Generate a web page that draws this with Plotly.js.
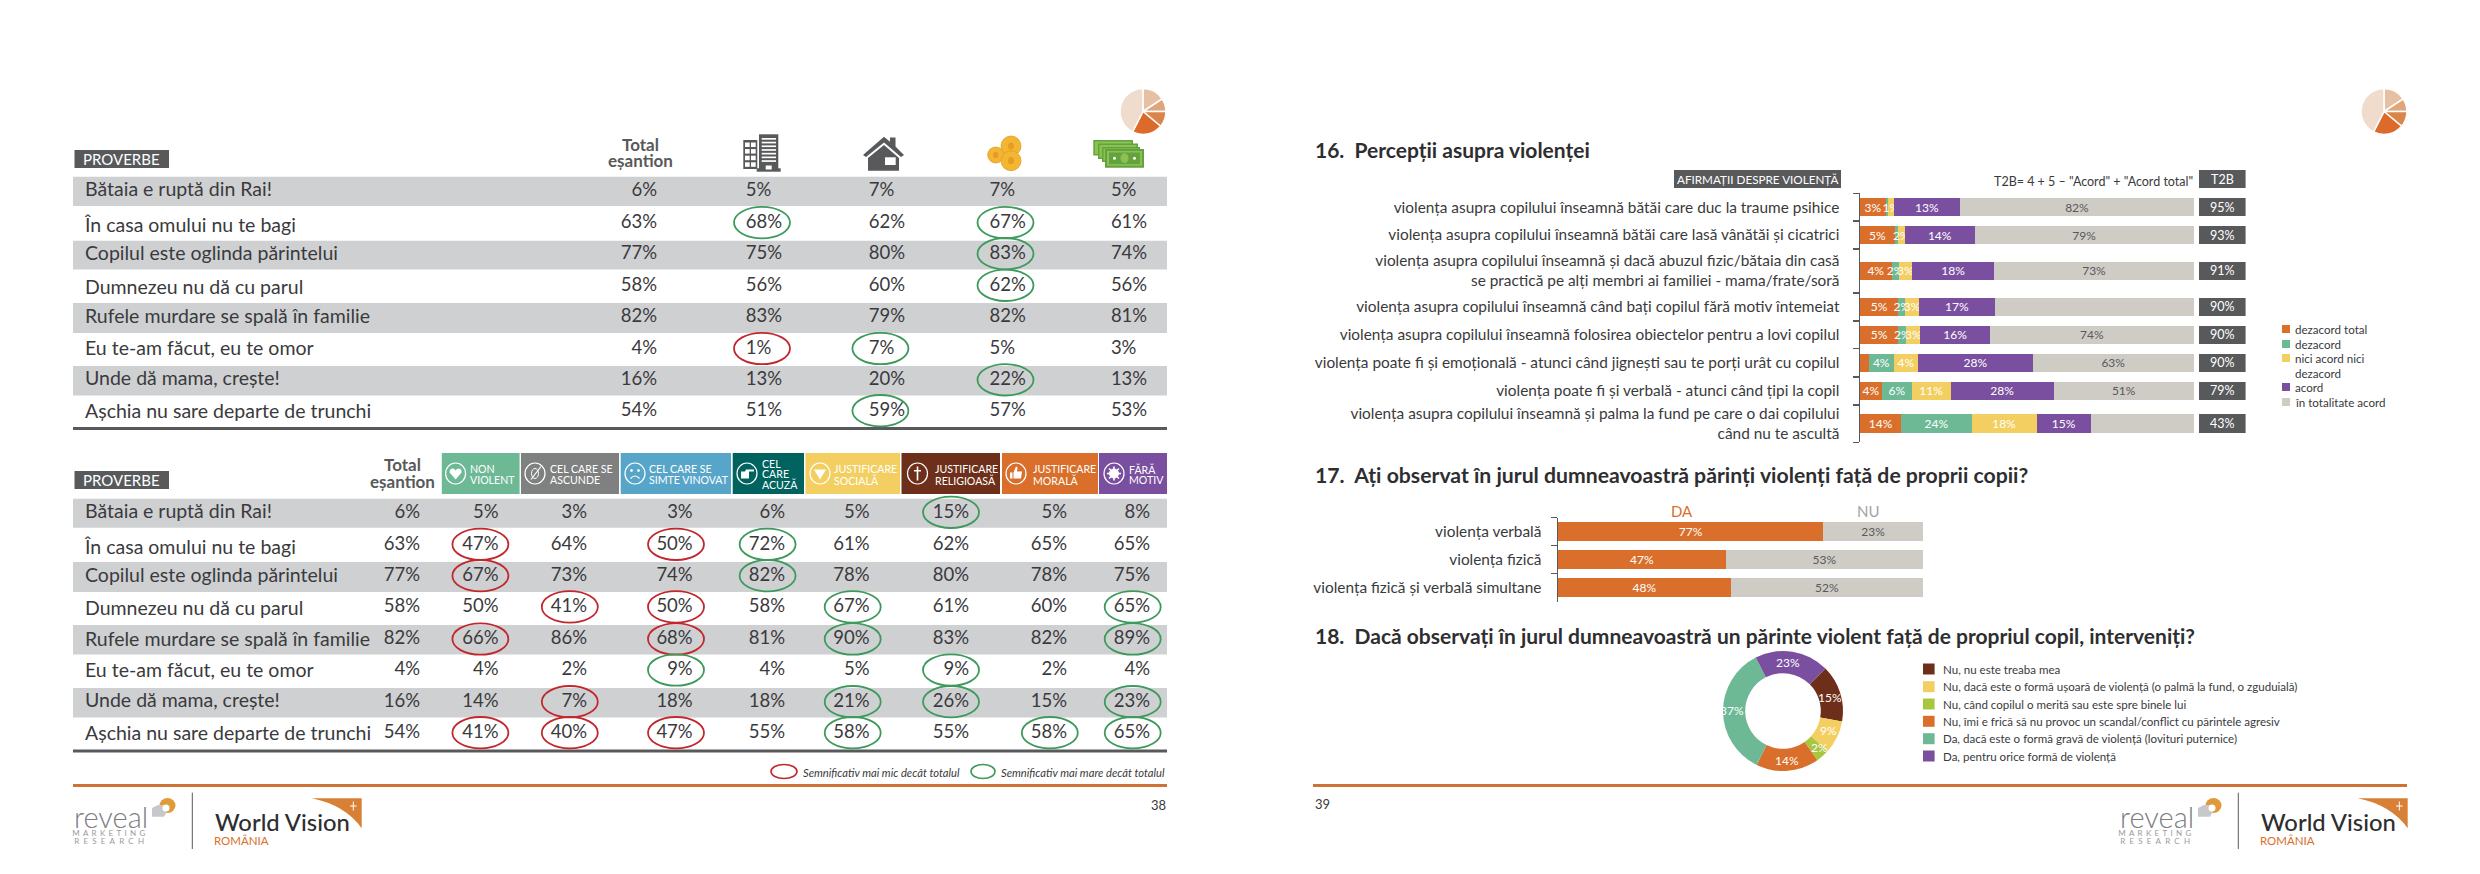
<!DOCTYPE html>
<html><head><meta charset="utf-8">
<script src="https://cdn.plot.ly/plotly-3.0.1.min.js"></script>
<style>html,body{margin:0;padding:0;background:#fff}#c{width:2480px;height:874px}</style>
</head><body><div id="c"></div>
<script>
// ---------- DATA ----------
const proverbs = ["Bătaia e ruptă din Rai!","În casa omului nu te bagi","Copilul este oglinda părintelui","Dumnezeu nu dă cu parul","Rufele murdare se spală în familie","Eu te-am făcut, eu te omor","Unde dă mama, crește!","Așchia nu sare departe de trunchi"];
const t1Total   = [6,63,77,58,82,4,16,54];
const t1Urban   = [5,68,75,56,83,1,13,51];
const t1Rural   = [7,62,80,60,79,7,20,59];
const t1Low     = [7,67,83,62,82,5,22,57];
const t1High    = [5,61,74,56,81,3,13,53];
const t1Sig = [["","","",""],["g","","g",""],["","","g",""],["","","g",""],["","","",""],["r","g","",""],["","","g",""],["","g","",""]];
const t2Total      = [6,63,77,58,82,4,16,54];
const t2NonViolent = [5,47,67,50,66,4,14,41];
const t2Ascunde    = [3,64,73,41,86,2,7,40];
const t2Vinovat    = [3,50,74,50,68,9,18,47];
const t2Acuza      = [6,72,82,58,81,4,18,55];
const t2Sociala    = [5,61,78,67,90,5,21,58];
const t2Religioasa = [15,62,80,61,83,9,26,55];
const t2Morala     = [5,65,78,60,82,2,15,58];
const t2Fara       = [8,65,75,65,89,4,23,65];
const t2Sig = [
 ["","","","","","g","",""],
 ["r","","r","g","","","",""],
 ["r","","","g","","","",""],
 ["","r","r","","g","","","g"],
 ["r","","r","","g","","","g"],
 ["","","g","","","g","",""],
 ["","r","","","g","g","","g"],
 ["r","r","r","","g","","g","g"]];
const segmentHeaders = [["NON","VIOLENT"],["CEL CARE SE","ASCUNDE"],["CEL CARE SE","SIMTE VINOVAT"],["CEL","CARE","ACUZĂ"],["JUSTIFICARE","SOCIALĂ"],["JUSTIFICARE","RELIGIOASĂ"],["JUSTIFICARE","MORALĂ"],["FĂRĂ","MOTIV"]];

const q16Statements = ["violența asupra copilului înseamnă bătăi care duc la traume psihice","violența asupra copilului înseamnă bătăi care lasă vânătăi și cicatrici","violența asupra copilului înseamnă și dacă abuzul fizic/bătaia din casă<br>se practică pe alți membri ai familiei - mama/frate/soră","violența asupra copilului înseamnă când bați copilul fără motiv întemeiat","violența asupra copilului înseamnă folosirea obiectelor pentru a lovi copilul","violența poate fi și emoțională - atunci când jignești sau te porți urât cu copilul","violența poate fi și verbală - atunci când țipi la copil","violența asupra copilului înseamnă și palma la fund pe care o dai copilului<br>când nu te ascultă"];
const q16Series = ["dezacord total","dezacord","nici acord nici|dezacord","acord","în totalitate acord"];
// drawn bar lengths (the printed labels differ from the drawn lengths in the source)
const q16Dezacord1 = [7.8,10.5,9.5,11.5,11.5,2.7,6.6,12.4];
const q16Dezacord2 = [0.6,1.0,2.1,2.1,2.4,7.4,9.0,21.0];
const q16Neutru    = [1.7,1.9,4.0,4.1,4.2,7.3,11.5,19.5];
const q16Acord     = [19.9,21.0,24.6,22.7,20.8,34.4,31.0,16.2];
const q16AcordTot  = [70.0,65.5,59.8,59.7,61.1,48.1,41.8,31.0];
const q16Labels1 = ["3%","5%","4%","5%","5%","","4%","14%"];
const q16Labels2 = ["","","2%","2%","2%","4%","6%","24%"];
const q16Labels3 = ["1%","2%","3%","3%","3%","4%","11%","18%"];
const q16Labels4 = ["13%","14%","18%","17%","16%","28%","28%","15%"];
const q16Labels5 = ["82%","79%","73%","73%","74%","63%","51%","28%"];
const q16T2B = ["95%","93%","91%","90%","90%","90%","79%","43%"];

const q17Types = ["violența verbală","violența fizică","violența fizică și verbală simultane"];
const q17Da = [72.7,46,47.4];
const q17Nu = [27.3,54,52.6];
const q17DaLabels = ["77%","47%","48%"];
const q17NuLabels = ["23%","53%","52%"];

const q18Answers = ["Nu, nu este treaba mea","Nu, dacă este o formă ușoară de violență (o palmă la fund, o zguduială)","Nu, când copilul o merită sau este spre binele lui","Nu, îmi e frică să nu provoc un scandal/conflict cu părintele agresiv","Da, dacă este o formă gravă de violență (lovituri puternice)","Da, pentru orice formă de violență"];
const q18Drawn = [15.3,8.9,3.6,16.9,35.3,20.0];
const q18Labels = ["15%","9%","2%","14%","37%","23%"];
const decorPie = [57,33,40,77,153];

// ---------- STYLE / LAYOUT CONSTANTS ----------
const F='Lato', DARK='#3a3a3c', TAG='#58595b', BAND='#cfd0d2', ORANGE='#d96f2b', GREEN='#6db996', YEL='#f3cf62', PUR='#7b4fa0', STONE='#cfccc6', BROWN='#6e2f1a', LIME='#a9c63f';
const RED_E='#c1272d', GRN_E='#3d9a5c';
const W=2480,H=874;
const px=v=>v/W, py=v=>1-v/H;
const shapes=[], annotations=[], traces=[];
function rect(x0,y0,x1,y1,fill){shapes.push({type:'rect',xref:'x',yref:'y',x0,y0,x1,y1,fillcolor:fill,line:{width:0},layer:'below'});}
function line(x0,y0,x1,y1,color,width){shapes.push({type:'line',xref:'x',yref:'y',x0,y0,x1,y1,line:{color,width},layer:'below'});}
function ell(cx,cy,rx,ry,color,width,fill){shapes.push({type:'circle',xref:'x',yref:'y',x0:cx-rx,x1:cx+rx,y0:cy-ry,y1:cy+ry,line:{color,width},fillcolor:fill||'rgba(0,0,0,0)',layer:'above'});}
function path(d,fill,lineColor,lw){shapes.push({type:'path',xref:'x',yref:'y',path:d,fillcolor:fill||'rgba(0,0,0,0)',line:{width:lw||0,color:lineColor||'rgba(0,0,0,0)'},layer:'above'});}
const box=(x0,y0,x1,y1,fill)=>path(`M${x0},${y0} L${x1},${y0} L${x1},${y1} L${x0},${y1} Z`,fill);
function txt(x,y,s,size,color,anchor,opts){annotations.push(Object.assign({xref:'x',yref:'y',x,y,text:s,showarrow:false,xanchor:anchor||'left',yanchor:'middle',font:{family:F,size,color},borderpad:0},opts||{}));}
function tableText(xs,ys,texts,pos,size){traces.push({type:'scatter',mode:'text',xaxis:'x',yaxis:'y',x:xs,y:ys,text:texts,textposition:pos,textfont:{family:F,size:size,color:DARK},hoverinfo:'skip',showlegend:false,cliponaxis:false});}
const boldSmall=(x,y,s)=>txt(x,y,s,17,TAG,'center',{font:{family:F,size:17,color:TAG,weight:700}});

// ---------- TABLE 1 ----------
const LX=73, RX=1167, LABEL_X=85, TXT=18.5, LABEL_TXT=19.5;
const labelDY=[0,4,1,3,1,1,0,2];
const t1Y=[191.5,223.3,254.4,286,317.4,349.2,380.5,411.4];
[[176.7,206],[240.7,269.5],[303,333],[366,395.5]].forEach(b=>rect(LX,b[0],RX,b[1],BAND));
rect(LX,427,RX,430,TAG);
rect(74.5,150,169,168,TAG); txt(121.7,159,'PROVERBE',15,'#fff','center');
boldSmall(640,144,'Total'); boldSmall(640,160.5,'eșantion');
tableText(t1Y.map(()=>LABEL_X),t1Y.map((y,i)=>y+labelDY[i]),proverbs,'middle right',LABEL_TXT);
const pct=a=>a.map(v=>v+'%');
tableText(t1Y.map(()=>657),t1Y,pct(t1Total),'middle left',TXT);
[[745.8,t1Urban],[868.7,t1Rural],[989.5,t1Low],[1110.9,t1High]].forEach(c=>tableText(t1Y.map(()=>c[0]),t1Y,pct(c[1]),'middle right',TXT));
const t1CX=[762,880.4,1005.5,1127];
t1Sig.forEach((r,i)=>r.forEach((s,j)=>{if(s)ell(t1CX[j],t1Y[i]-0.7,28,15.7,s==='g'?GRN_E:RED_E,1.8);}));

// ---------- TABLE 2 ----------
const t2Y=[513,545,576.4,607.6,639.7,670.7,702.4,733.4];
[[498.7,527.7],[562,592],[625,654.5],[688,717.5]].forEach(b=>rect(LX,b[0],RX,b[1],BAND));
rect(LX,749.5,RX,752.5,TAG);
rect(74.5,471,169,489,TAG); txt(121.7,480,'PROVERBE',15,'#fff','center');
boldSmall(402.5,464,'Total'); boldSmall(402.5,481,'eșantion');
tableText(t2Y.map(()=>LABEL_X),t2Y.map((y,i)=>y+labelDY[i]),proverbs,'middle right',LABEL_TXT);
[[420,t2Total],[498.5,t2NonViolent],[587,t2Ascunde],[692.7,t2Vinovat],[785,t2Acuza],[869.5,t2Sociala],[969,t2Religioasa],[1067,t2Morala],[1150,t2Fara]]
  .forEach(c=>tableText(t2Y.map(()=>c[0]),t2Y,pct(c[1]),'middle left',TXT));
const t2CX=[480.4,569.8,676,767.6,852.7,951,1049.8,1132.7];
t2Sig.forEach((r,i)=>r.forEach((s,j)=>{if(s)ell(t2CX[j],t2Y[i]-0.7,28,15.7,s==='g'?GRN_E:RED_E,1.8);}));
// segment header boxes
const boxes=[[441.8,519.6,GREEN,455.6,468.7],[521,619,'#7f8080',535,548.7],[620.7,731,'#57a6c9',635,647.6],[732.7,804,'#00635f',747,761],[805.5,900,YEL,820,833],[901.5,1000,BROWN,917.5,933.5],[1002,1098,ORANGE,1016,1031.6],[1099,1167,PUR,1114,1128]];
boxes.forEach((b,i)=>{
  rect(b[0],453,b[1],494,b[2]);
  const c=b[3], m=473.5;
  ell(c,m,10,10.5,'#fff',1.2);
  const lines=segmentHeaders[i];
  const ys=lines.length===3?[464,474.2,484.3]:[469,480];
  lines.forEach((l,k)=>txt(b[4],ys[k],l,10.6,'#fff','left'));
  if(i===0) path(`M${c},${m+6} L${c-6},${m-1} Q${c-6},${m-5} ${c-3},${m-5} Q${c-1},${m-5} ${c},${m-3} Q${c+1},${m-5} ${c+3},${m-5} Q${c+6},${m-5} ${c+6},${m-1} Z`,'#fff');
  if(i===1){ path(`M${c-4},${m+6} L${c+6},${m-7}`,null,'#fff',1.2); ell(c,m,3.5,5,'#fff',1,'rgba(0,0,0,0)');}
  if(i===2){ ell(c-3.5,m-3,1,1,'#fff',1,'#fff'); ell(c+3.5,m-3,1,1,'#fff',1,'#fff'); path(`M${c-4.5},${m+5} Q${c},${m} ${c+4.5},${m+5}`,null,'#fff',1.2);}
  if(i===3) path(`M${c-6},${m-2} L${c-2},${m-2} L${c-1},${m-4} L${c+7},${m-4} L${c+7},${m-2} L${c+2},${m-2} L${c+2},${m+5} L${c-6},${m+5} Z`,'#fff');
  if(i===4) path(`M${c-6},${m-4} L${c+6},${m-4} L${c},${m+6} Z`,'#fff');
  if(i===5) path(`M${c-0.8},${m-7} L${c+0.8},${m-7} L${c+0.8},${m-3.5} L${c+3.5},${m-3.5} L${c+3.5},${m-2} L${c+0.8},${m-2} L${c+0.8},${m+7} L${c-0.8},${m+7} L${c-0.8},${m-2} L${c-3.5},${m-2} L${c-3.5},${m-3.5} L${c-0.8},${m-3.5} Z`,'#fff');
  if(i===6) path(`M${c-6},${m-1} L${c-3.5},${m-1} L${c-3.5},${m+5} L${c-6},${m+5} Z M${c-2.5},${m-1} L${c},${m-7} L${c+1.5},${m-6} L${c+1},${m-2} L${c+6},${m-2} L${c+5},${m+5} L${c-2.5},${m+5} Z`,'#fff');
  if(i===7){ ell(c,m,4.5,4.5,'#fff',1,'#fff'); [0,45,90,135].forEach(a=>{const r=a*Math.PI/180,dx=7*Math.cos(r),dy=7*Math.sin(r);path(`M${c-dx},${m-dy} L${c+dx},${m+dy}`,null,'#fff',1.6);}); }
});
// legend of significance
ell(784,771.5,13,7,RED_E,1.6); txt(802,772,'Semnificativ mai mic decât totalul',11.2,DARK,'left',{font:{family:F,size:11.2,color:DARK,style:'italic'}});
ell(983,771.5,12,7,GRN_E,1.6); txt(1000,772,'Semnificativ mai mare decât totalul',11.2,DARK,'left',{font:{family:F,size:11.2,color:DARK,style:'italic'}});

// ---------- TABLE 1 ICONS ----------
const G=TAG;
// building
box(743.3,140,757.3,169,G);
for(let r=0;r<4;r++)for(let c=0;c<2;c++) box(745+c*6,142.5+r*6.6,749.7+c*6,147+r*6.6,'#fff');
box(759,134.3,778.3,169,G);
for(let r=0;r<7;r++) box(761.7,138+r*3.7,776,139.7+r*3.7,'#fff');
box(756.7,168.3,780.7,171.7,G);
box(765.7,165.5,771.7,169.5,'#fff');
// house
path('M863,155 L884,136.7 L890,141.8 L890,137.5 L895.5,137.5 L895.5,146.5 L904,155 L901,157 L884,142.5 L866,157 Z',G);
path('M868,158 L884,145 L899,158 L899,170.7 L868,170.7 Z',G);
box(885,157.3,895.7,165,'#fff');
// coins
const COIN='#f2b632', COIN2='#e79d25';
ell(995.7,155,8,8,COIN2,0.8,COIN); ell(1011,146,10,10,COIN2,0.8,COIN); ell(1011,160.7,10,10,COIN2,0.8,COIN);
ell(995.7,155,2.6,3.2,COIN2,0,COIN2); ell(1011,146,3,3.6,COIN2,0,COIN2); ell(1011,160.7,3,3.6,COIN2,0,COIN2);
// cash
const CASH='#8cc152', CASH2='#63a33f';
[[1093.3,140,1133,155.5],[1098,143.5,1138,159],[1102,147,1140,162]].forEach(n=>{box(n[0],n[1],n[2],n[3],CASH2); box(n[0]+1.5,n[1]+1.5,n[2]-1.5,n[3]-1.5,CASH);});
box(1105,149,1144,167.7,CASH2); box(1107,151,1142,165.7,CASH);
box(1109,152.5,1140,164.2,CASH2);
ell(1124.5,158.3,4,5,CASH,0,CASH); ell(1114.5,158.3,1.5,1.5,'#fff',0,'#fff'); ell(1134.5,158.3,1.5,1.5,'#fff',0,'#fff');

// ---------- PAGE 2 HEADINGS ----------
const bold=(x,y,s,size)=>txt(x,y,s,size,'#2e2e30','left',{font:{family:F,size,color:'#2e2e30',weight:700}});
bold(1314,149,'16.&#160;&#160;Percepții asupra violenței',21);
bold(1314,475,'17.&#160;&#160;Ați observat în jurul dumneavoastră părinți violenți față de proprii copii?',21.2);
bold(1314,635,'18.&#160;&#160;Dacă observați în jurul dumneavoastră un părinte violent față de propriul copil, interveniți?',21);
rect(1674,170,1841,188,TAG); txt(1757.5,179,'AFIRMAȚII DESPRE VIOLENȚĂ',11.7,'#fff','center');
rect(2199,170,2245.6,188,TAG); txt(2222.3,179.5,'T2B',12.5,'#fff','center');
txt(2194,181,'T2B= 4 + 5 – "Acord" + "Acord total"',12.5,DARK,'right');

// ---------- Q16 ----------
const q16Heights=[27.7,28,43.7,28,27.7,28.4,28,37.3];
const q16Top=193.3, q16Bottom=442.3;
let acc=0; const q16Edges=[0]; const q16Centers=q16Heights.map(h=>{const c=acc+h/2;acc+=h;q16Edges.push(acc);return c;});
const q16Cols=[ORANGE,GREEN,YEL,PUR,STONE];
[[q16Dezacord1,q16Labels1],[q16Dezacord2,q16Labels2],[q16Neutru,q16Labels3],[q16Acord,q16Labels4],[q16AcordTot,q16Labels5]].forEach((s,i)=>{
  traces.push({type:'bar',orientation:'h',name:q16Series[i].replace('|',' '),x:s[0],y:q16Centers,width:18.3,text:s[1],xaxis:'x2',yaxis:'y2',
    marker:{color:q16Cols[i],line:{width:0}},textposition:'inside',insidetextanchor:'middle',textangle:0,constraintext:'none',cliponaxis:false,
    textfont:{family:F,size:12,color:i===4?TAG:'#fff'},insidetextfont:{family:F,size:12,color:i===4?TAG:'#fff'},hoverinfo:'skip',showlegend:false});
});
traces.push({type:'bar',orientation:'h',name:'T2B',x:q16T2B.map(()=>1),y:q16Centers,width:18.3,text:q16T2B,xaxis:'x3',yaxis:'y2',marker:{color:TAG,line:{width:0}},
  textposition:'inside',insidetextanchor:'middle',textangle:0,constraintext:'none',textfont:{family:F,size:12.5,color:'#fff'},hoverinfo:'skip',showlegend:false});
[[329,0],[344,1],[358,2],[387,3],[402,4]].forEach(e=>{
  rect(2282,e[0]-4,2290,e[0]+4,q16Cols[e[1]]);
  const parts=q16Series[e[1]].split('|');
  txt(2293.5,e[0],parts[0],11.6,DARK,'left');
  if(parts[1]) txt(2293.5,e[0]+15,parts[1],11.6,DARK,'left');
});

// ---------- Q17 ----------
[[q17Da,q17DaLabels,ORANGE,'#fff','DA'],[q17Nu,q17NuLabels,STONE,TAG,'NU']].forEach(s=>{
  traces.push({type:'bar',orientation:'h',name:s[4],x:s[0],y:q17Types,width:0.66,text:s[1],xaxis:'x4',yaxis:'y4',marker:{color:s[2],line:{width:0}},
    textposition:'inside',insidetextanchor:'middle',textangle:0,constraintext:'none',textfont:{family:F,size:12,color:s[3]},hoverinfo:'skip',showlegend:false});
});
txt(1681.5,511,'DA',15,ORANGE,'center'); txt(1868,511,'NU',15,'#a3a3a3','center');

// ---------- Q18 ----------
const q18Cols=[BROWN,YEL,LIME,ORANGE,GREEN,PUR];
traces.push({type:'pie',values:q18Drawn,labels:q18Answers,sort:false,direction:'clockwise',rotation:45,hole:0.63,textinfo:'none',hoverinfo:'skip',showlegend:false,
  marker:{colors:q18Cols,line:{width:0}},domain:{x:[px(1723),px(1843)],y:[py(771),py(651)]}});
[[1830,697],[1828.5,730.7],[1819,747.7],[1786.6,760],[1732,710.7],[1788,662]].forEach((p,i)=>txt(p[0],p[1],q18Labels[i],12,'#fff','center'));
[669,686.7,704,721.3,738.7,756].forEach((y,i)=>{rect(1923,y-5.5,1934.6,y+5.5,q18Cols[i]); txt(1942,y,q18Answers[i],11.55,DARK,'left');});

// ---------- DECORATIVE PIES ----------
[[1120,1166],[2361,2407]].forEach(d=>{
  traces.push({type:'pie',values:decorPie,sort:false,direction:'clockwise',rotation:0,textinfo:'none',hoverinfo:'skip',showlegend:false,
    marker:{colors:['#e6c0a3','#e2a47b','#d9864d','#dc6a2a','#f0dccc'],line:{color:'#fff',width:1.5}},domain:{x:[px(d[0]),px(d[1])],y:[py(135),py(88)]}});
});

// ---------- FOOTERS ----------
function footer(dx,lineX0,lineX1){
  rect(lineX0,784,lineX1,787,'#cf7236');
  txt(73+dx,816.5,'reveal',29,'#7d7d7f','left',{font:{family:F,size:29,color:'#7d7d7f',weight:300}});
  txt(110.5+dx,832.7,'MARKETING',8,'#9a9a9c','center');
  txt(110.5+dx,840.7,'RESEARCH',8,'#9a9a9c','center');
  ell(167.5+dx,805.5,8,7.5,'#e09a3a',0,'#e09a3a');
  path(`M${152+dx},${808} L${158+dx},${805} L${166+dx},${805} L${169+dx},${808} L${164+dx},${816.7} L${152+dx},${816.7} Z`,'#c7c8ca');
  ell(166+dx,808,3.5,3.5,'#fff',0,'#fff');
  line(192.3+dx,792.7,192.3+dx,849,'#58595b',1);
  txt(214+dx,821.7,'World Vision',23.8,'#2e2e30','left',{font:{family:F,size:23.8,color:'#2e2e30',weight:500}});
  txt(213+dx,840.7,'ROMÂNIA',11.5,ORANGE,'left');
  path(`M${311.7+dx},798.3 L${361.7+dx},798.3 L${361.7+dx},828.3 Q${345+dx},805 ${311.7+dx},798.3 Z`,'#d98037');
  path(`M${353.3+dx},801.5 L${353.3+dx},810.5 M${350+dx},806 L${356.6+dx},806`,null,'#fff',1);
}
footer(0,73,1167); footer(2046,1313,2407);
txt(1158,805,'38',13,DARK,'center'); txt(1322,804,'39',13,DARK,'center');

const hidden={visible:false,fixedrange:true};
const layout={
  width:W,height:H,autosize:false,margin:{l:0,r:0,t:0,b:0},paper_bgcolor:'#fff',plot_bgcolor:'rgba(0,0,0,0)',showlegend:false,barmode:'stack',
  xaxis:Object.assign({domain:[0,1],range:[0,W]},hidden), yaxis:Object.assign({domain:[0,1],range:[H,0]},hidden),
  xaxis2:Object.assign({domain:[px(1860),px(2194)],range:[0,100],anchor:'y2'},hidden),
  yaxis2:{domain:[py(q16Bottom),py(q16Top)],range:[acc,0],anchor:'x2',fixedrange:true,showline:true,linecolor:TAG,linewidth:1.5,showgrid:false,zeroline:false,
    tickmode:'array',tickvals:q16Centers,ticktext:q16Statements,ticks:'',tickfont:{family:F,size:15.4,color:DARK},ticklabelstandoff:16,
    minor:{tickmode:'array',tickvals:q16Edges,ticks:'outside',ticklen:6,tickcolor:TAG,tickwidth:1.5,showgrid:false}},
  xaxis3:Object.assign({domain:[px(2199),px(2245.6)],range:[0,1],anchor:'y2'},hidden),
  xaxis4:Object.assign({domain:[px(1558),px(1923)],range:[0,100],anchor:'y4'},hidden),
  yaxis4:{domain:[py(601.7),py(517.7)],type:'category',range:[2.5,-0.5],anchor:'x4',fixedrange:true,showline:true,linecolor:TAG,linewidth:1.5,showgrid:false,zeroline:false,
    tickson:'boundaries',ticks:'outside',ticklen:6,tickcolor:TAG,tickwidth:1.5,tickfont:{family:F,size:15.4,color:DARK},ticklabelstandoff:12},
  shapes,annotations
};
Plotly.newPlot('c',traces,layout,{staticPlot:true,displayModeBar:false}).then(()=>{
  document.querySelectorAll('.annotation-text').forEach(t=>{
    if(t.textContent==='MARKETING'||t.textContent==='RESEARCH') t.style.letterSpacing=(t.textContent==='MARKETING'?'3.3px':'4.2px');
  });
});
</script></body></html>
